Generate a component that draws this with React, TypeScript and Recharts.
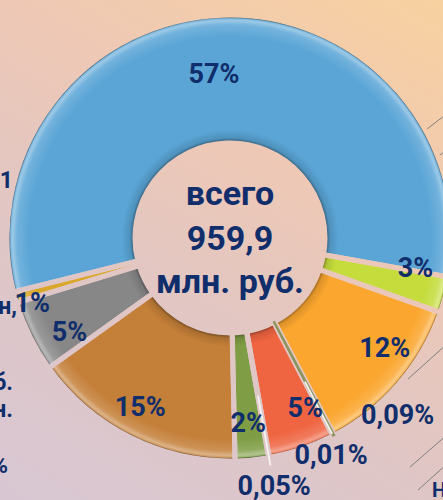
import { PieChart, Pie, Cell } from 'recharts';

// доли расходов, % от 959,9 млн. руб. (по часовой стрелке от левого края)
const categories = [
  'Статья 1', 'Статья 2', 'Статья 3', 'Статья 4', 'Статья 5', 'Статья 6',
  'Статья 7', 'Статья 8', 'Статья 9', 'Статья 10', 'Статья 11',
];
const shares = [56.5, 2.6, 11.8, 0.09, 0.01, 4.8, 0.05, 2.4, 15.4, 5.2, 0.8];
const centerLines = ['всего', '959,9', 'млн. руб.'];

// обрезанные подписи соседних диаграмм
const leftTexts = ['30,1', 'млн,', 'руб.', 'млн.', '3%'];
const rightTexts = ['Н'];

const COLORS = [
  '#5AA5D6', '#C5DC3C', '#FBA62E', '#9FA46A', '#E9E5DC', '#EF6441',
  '#F2F2F2', '#7E9D44', '#C47F38', '#878787', '#D9A82B',
];

// положение подписи: радиус и сдвиг угла
const LABEL_POS = [
  { r: 165, da: 3.6 }, { r: 188, da: 5.6 }, { r: 190, da: 5.4 },
  { r: 244, da: 15.7 }, { r: 239, da: -2.5, line: [162, 221] },
  { r: 186, da: 5 }, { r: 252, da: 0, line: [160, 231] },
  { r: 186, da: 0 }, { r: 191, da: -1.5 }, { r: 186, da: 4 }, { r: 208, da: 2.7 },
];

const W = 443;
const H = 500;
const CX = 230;
const CY = 238;
const R_OUT = 223;
const R_IN = 95;
const GAP = 5;
const NAVY = '#102E6B';
const FONT = 'Roboto, "Noto Sans", sans-serif';
const RADIAN = Math.PI / 180;

const BG_STOPS: [number, string][] = [
  [0, '#F8D1A0'], [0.34, '#EEC8B5'], [0.66, '#DFC6C6'], [1, '#D8C7D3'],
];
const CSS_BG = `linear-gradient(210deg, ${BG_STOPS.map(([o, c]) => `${c} ${o * 100}%`).join(', ')})`;

const fmt = (v: number) =>
  v >= 0.5 ? `${Math.round(v)}%` : `${v.toFixed(2).replace('.', ',')}%`;

function renderLabel(props: any) {
  const { cx, cy, midAngle, index, value } = props;
  const p = LABEL_POS[index];
  const a = (midAngle + p.da) * RADIAN;
  const x = cx + p.r * Math.cos(a);
  const y = cy - p.r * Math.sin(a);
  const m = midAngle * RADIAN;
  return (
    <g key={`lbl-${index}`}>
      {p.line && (
        <line
          x1={cx + p.line[0] * Math.cos(m)}
          y1={cy - p.line[0] * Math.sin(m)}
          x2={cx + p.line[1] * Math.cos(m)}
          y2={cy - p.line[1] * Math.sin(m)}
          stroke="#F7F4EF"
          strokeWidth={1.8}
        />
      )}
      <text
        x={x}
        y={y}
        textAnchor="middle"
        dominantBaseline="central"
        fill={NAVY}
        fontFamily={FONT}
        fontWeight={700}
        fontSize={27}
      >
        {fmt(value)}
      </text>
    </g>
  );
}

export default function App() {
  const data = shares.map((v, i) => ({ name: categories[i], value: v }));
  const inner = (R_IN + GAP / 2) / R_OUT;
  const outer = (R_OUT - GAP / 2) / R_OUT;

  const common = {
    data,
    dataKey: 'value',
    cx: CX,
    cy: CY,
    innerRadius: R_IN,
    outerRadius: R_OUT,
    startAngle: 194,
    endAngle: -166,
    isAnimationActive: false,
    labelLine: false,
  };

  return (
    <div
      style={{
        position: 'absolute', left: 0, top: 0, width: W, height: H,
        background: CSS_BG, overflow: 'hidden',
      }}
    >
      <svg width={W} height={H} style={{ position: 'absolute', left: 0, top: 0 }}>
        <defs>
          <linearGradient id="bgGrad" gradientUnits="userSpaceOnUse" x1={385.1} y1={-33.4} x2={57.9} y2={533.4}>
            {BG_STOPS.map(([o, c]) => <stop key={o} offset={o} stopColor={c} />)}
          </linearGradient>
          <radialGradient id="bevel" gradientUnits="userSpaceOnUse" cx={CX} cy={CY} r={R_OUT}>
            <stop offset={inner} stopColor="#000" stopOpacity={0.35} />
            <stop offset={inner + 0.012} stopColor="#000" stopOpacity={0.12} />
            <stop offset={inner + 0.05} stopColor="#000" stopOpacity={0} />
            <stop offset={0.9} stopColor="#fff" stopOpacity={0} />
            <stop offset={0.955} stopColor="#fff" stopOpacity={0.15} />
            <stop offset={0.975} stopColor="#fff" stopOpacity={0.4} />
            <stop offset={outer - 0.006} stopColor="#fff" stopOpacity={0.25} />
            <stop offset={outer} stopColor="#000" stopOpacity={0.4} />
          </radialGradient>
        </defs>
        <g stroke="#7E7E7E" strokeWidth={1}>
          <line x1={423} y1={132} x2={448} y2={113} />
          <line x1={433} y1={160} x2={448} y2={149} />
          <line x1={400} y1={262} x2={448} y2={227} />
          <line x1={420} y1={285} x2={448} y2={264} />
          <line x1={408} y1={379} x2={448} y2={343} />
          <line x1={410} y1={467} x2={448} y2={434} />
          <line x1={418} y1={490} x2={448} y2={463} />
        </g>
        <g fill={NAVY} fontFamily={FONT} fontWeight={700} fontSize={23} textAnchor="end">
          <text x={13} y={188}>{leftTexts[0]}</text>
          <text x={17} y={314}>{leftTexts[1]}</text>
          <text x={13} y={390}>{leftTexts[2]}</text>
          <text x={13} y={417}>{leftTexts[3]}</text>
          <text x={8} y={473}>{leftTexts[4]}</text>
        </g>
        <text x={432} y={497} fill={NAVY} fontFamily={FONT} fontWeight={700} fontSize={20}>
          {rightTexts[0]}
        </text>
        <g fill={NAVY} fontFamily={FONT} fontWeight={700} fontSize={34} textAnchor="middle">
          <text x={CX} y={205}>{centerLines[0]}</text>
          <text x={CX} y={250}>{centerLines[1]}</text>
          <text x={CX} y={293}>{centerLines[2]}</text>
        </g>
      </svg>
      <div style={{ position: 'absolute', left: 0, top: 0 }}>
        <PieChart width={W} height={H} margin={{ top: 0, right: 0, bottom: 0, left: 0 }}>
          <Pie {...common} stroke="none" label={false}>
            {data.map((d, i) => <Cell key={d.name} fill={COLORS[i]} />)}
          </Pie>
          <Pie {...common} fill="url(#bevel)" stroke="url(#bgGrad)" strokeWidth={GAP} label={false}>
            {data.map((d) => <Cell key={d.name} fill="url(#bevel)" />)}
          </Pie>
          <Pie {...common} label={renderLabel}>
            {data.map((d, i) => (
              <Cell
                key={d.name}
                fill="none"
                stroke={i === 3 ? '#8E9460' : 'none'}
                strokeWidth={i === 3 ? 2 : 0}
              />
            ))}
          </Pie>
        </PieChart>
      </div>
    </div>
  );
}
